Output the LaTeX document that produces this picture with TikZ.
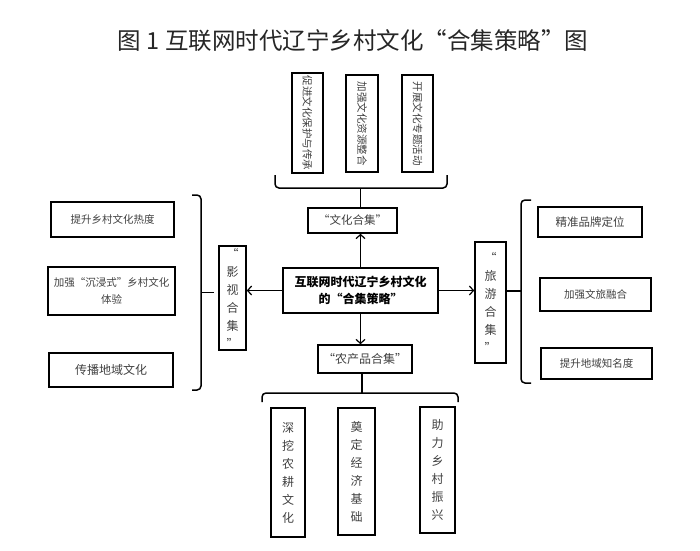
\documentclass[tikz,border=0pt]{standalone}
\usepackage{fontspec}
\setmainfont{Noto Sans CJK SC}
\usetikzlibrary{arrows.meta}
\begin{document}
\begin{tikzpicture}[x=1pt,y=-1pt,
  box/.style={draw=black, line width=1.6pt, inner sep=0pt, text=black!75, align=center,
    font=\fontsize{10.5}{13}\selectfont},
  stack/.style={box, font=\fontsize{12}{18}\selectfont},
  line/.style={line width=1.5pt, draw=black},
  arr/.style={line, -{Straight Barb[length=4pt,width=9pt,line width=1.2pt]}},
  bracepath/.style={line, rounded corners=4pt},
  titlestyle/.style={inner sep=0pt, text=black!85, font=\fontsize{23.5}{26}\selectfont}]
\useasboundingbox (0,0) rectangle (700,550);
\node[titlestyle] (title) at (353,41) {图 1 互联网时代辽宁乡村文化“合集策略”图};

% top
\node[box, rotate=-90, minimum width=100pt, minimum height=31pt] (t1) at (307.5,123) {促进文化保护与传承};
\node[box, rotate=-90, minimum width=97pt, minimum height=32pt] (t2) at (362,123.5) {加强文化资源整合};
\node[box, rotate=-90, minimum width=97pt, minimum height=31pt] (t3) at (417.5,123.5) {开展文化专题活动};
\draw[bracepath] (275,175) -- (275,188) -- (447,188) -- (447,175);
\coordinate (tb) at (360.5,188);
\node[box, minimum width=89pt, minimum height=25pt, font=\fontsize{11.5}{13}\selectfont] (wh) at (352.5,220.5) {“文化合集”};
\draw[line] (tb) -- (tb |- wh.north);

% center
\node[box, minimum width=155pt, minimum height=45pt, text=black, font=\fontsize{12}{17}\selectfont\bfseries] (c) at (360.5,290.5) {互联网时代辽宁乡村文化\\的“合集策略”};
\draw[arr] (c.north) -- (c.north |- wh.south);

% bottom
\node[box, minimum width=94pt, minimum height=28pt, font=\fontsize{12}{14}\selectfont] (n) at (365,359) {“农产品合集”};
\draw[arr] (c.south) -- (c.south |- n.north);
\coordinate (bb) at (362,393);
\draw[line] (bb |- n.south) -- (bb);
\draw[bracepath] (262,402) -- (262,393) -- (458,393) -- (458,402);
\node[stack, minimum width=34pt, minimum height=129pt] (b1) at (288,472.5) {深\\挖\\农\\耕\\文\\化};
\node[stack, minimum width=37pt, minimum height=127pt] (b2) at (356.5,471.5) {奠\\定\\经\\济\\基\\础};
\node[stack, minimum width=35pt, minimum height=126pt] (b3) at (437.5,470) {助\\力\\乡\\村\\振\\兴};

% left
\node[stack, minimum width=27pt, minimum height=104pt] (ys) at (232.5,298) {“\\影\\视\\合\\集\\”};
\draw[arr] (c.west) -- (c.west -| ys.east);
\draw[bracepath] (192,195) -- (201,195) -- (201,390) -- (192,390);
\coordinate (lb) at (201,292.5);
\draw[line, shorten >=4pt] (lb) -- (lb -| ys.west);
\node[box, minimum width=123pt, minimum height=35pt] (l1) at (112.5,219.5) {提升乡村文化热度};
\node[box, minimum width=127pt, minimum height=48pt, font=\fontsize{10.5}{17}\selectfont] (l2) at (111.5,291) {加强“沉浸式”乡村文化\\体验};
\node[box, minimum width=124pt, minimum height=34pt, font=\fontsize{12}{14}\selectfont] (l3) at (111,370) {传播地域文化};

% right
\node[stack, minimum width=31pt, minimum height=121pt] (ly) at (490.5,302.5) {“\\旅\\游\\合\\集\\”};
\draw[arr] (c.east) -- (c.east -| ly.west);
\draw[bracepath] (531,200) -- (521,200) -- (521,383) -- (531,383);
\coordinate (rb) at (521,291);
\draw[line] (rb) -- (rb -| ly.east);
\node[box, minimum width=104pt, minimum height=30pt, font=\fontsize{11.5}{13}\selectfont] (r1) at (590,222) {精准品牌定位};
\node[box, minimum width=111pt, minimum height=33pt] (r2) at (595.5,294.5) {加强文旅融合};
\node[box, minimum width=111pt, minimum height=31pt] (r3) at (596.5,363.5) {提升地域知名度};
\end{tikzpicture}
\end{document}
